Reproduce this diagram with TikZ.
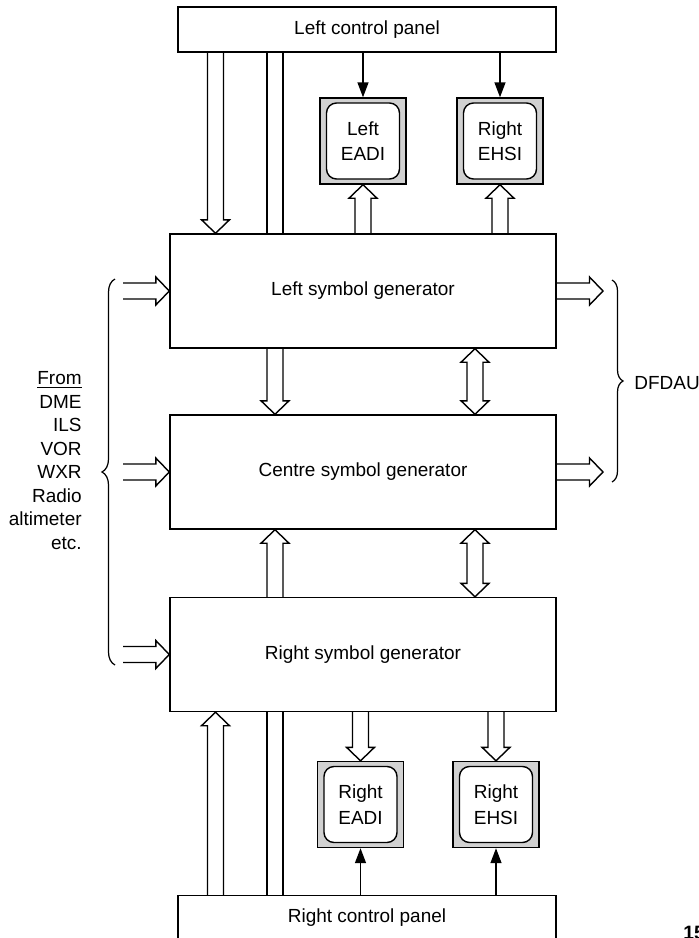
\documentclass[tikz,border=0pt]{standalone}
\usepackage{fontspec}
\setmainfont{Liberation Sans}
\usepackage{tikz}
\usetikzlibrary{arrows.meta, positioning, calc, decorations.pathreplacing}

% hollow bus arrow from #1 to #2 (open at the back)
\newcommand{\busarrow}[2]{%
  \coordinate (ba) at (#1); \coordinate (bb) at (#2);
  \coordinate (bc) at ($(bb)!0.27cm!(ba)$);
  \draw[bus] ($(ba)!0.16cm!90:(bb)$) -- ($(bc)!0.16cm!90:(bb)$) -- ($(bc)!0.28cm!90:(bb)$) -- (bb)
    -- ($(bc)!0.28cm!-90:(bb)$) -- ($(bc)!0.16cm!-90:(bb)$) -- ($(ba)!0.16cm!-90:(bb)$);
}
% hollow bus arrow with heads at both ends
\newcommand{\dbusarrow}[2]{%
  \coordinate (ba) at (#1); \coordinate (bb) at (#2);
  \coordinate (bc) at ($(bb)!0.27cm!(ba)$);
  \coordinate (bd) at ($(ba)!0.27cm!(bb)$);
  \draw[bus] (ba) -- ($(bd)!0.28cm!-90:(ba)$) -- ($(bd)!0.16cm!-90:(ba)$) -- ($(bc)!0.16cm!90:(bb)$)
    -- ($(bc)!0.28cm!90:(bb)$) -- (bb) -- ($(bc)!0.28cm!-90:(bb)$) -- ($(bc)!0.16cm!-90:(bb)$)
    -- ($(bd)!0.16cm!90:(ba)$) -- ($(bd)!0.28cm!90:(ba)$) -- cycle;
}

\begin{document}
\begin{tikzpicture}[
    font=\fontsize{10.8pt}{13.4pt}\selectfont,
    panel/.style={rectangle, draw, line width=0.8pt, fill=white, minimum width=7.56cm, minimum height=0.9cm},
    gen/.style={rectangle, draw, line width=0.8pt, fill=white, minimum width=7.72cm, minimum height=2.28cm},
    screen/.style={rectangle, draw, line width=0.8pt, fill=black!18, minimum size=1.72cm},
    face/.style={rectangle, draw, line width=0.8pt, fill=white, rounded corners=0.2cm, minimum width=1.46cm, minimum height=1.52cm, align=center, font=\fontsize{10.8pt}{14.5pt}\selectfont},
    bus/.style={line width=0.8pt, line join=miter},
    wire/.style={line width=0.8pt},
    ctl/.style={-{Triangle[length=0.3cm, width=0.22cm]}, line width=0.8pt},
    brc/.style={decorate, line width=0.7pt}
]
\useasboundingbox (0,0) rectangle (13.98,-18.76);

% columns
\coordinate (colA)   at (4.31,0);
\coordinate (colB)   at (5.50,0);
\coordinate (colD)   at (9.50,0);
\coordinate (colIn)  at (2.46,0);
\coordinate (colOut) at (12.06,0);

% panels and generators
\node[panel] (lcp) at (7.34,-0.59)  {Left control panel};
\node[gen]   (lsg) at (7.26,-5.82)  {Left symbol generator};
\node[gen]   (csg) at (7.26,-9.44)  {Centre symbol generator};
\node[gen]   (rsg) at (7.26,-13.09) {Right symbol generator};
\node[panel] (rcp) at (7.34,-18.36) {Right control panel};

% displays
\node[screen] (adi1) at (7.26,-2.82) {};
\node[face]   (adi1t) at (adi1) {Left\\EADI};
\node[screen] (hsi1) at (10.0,-2.82) {};
\node[face]   (hsi1t) at (hsi1) {Right\\EHSI};
\node[screen] (adi2) at (7.21,-16.09) {};
\node[face]   (adi2t) at (adi2) {Right\\EADI};
\node[screen] (hsi2) at (9.92,-16.09) {};
\node[face]   (hsi2t) at (hsi2) {Right\\EHSI};

% control lines
\draw[ctl] (adi1 |- lcp.south) -- (adi1.north);
\draw[ctl] (hsi1 |- lcp.south) -- (hsi1.north);
\draw[ctl] (adi2 |- rcp.north) -- (adi2.south);
\draw[ctl] (hsi2 |- rcp.north) -- (hsi2.south);

% panel buses
\busarrow{lcp.south -| colA}{lsg.north -| colA}
\draw[wire] ($(lcp.south -| colB)+(-0.16,0)$) -- ($(lsg.north -| colB)+(-0.16,0)$);
\draw[wire] ($(lcp.south -| colB)+(0.16,0)$) -- ($(lsg.north -| colB)+(0.16,0)$);
\busarrow{rcp.north -| colA}{rsg.south -| colA}
\draw[wire] ($(rcp.north -| colB)+(-0.16,0)$) -- ($(rsg.south -| colB)+(-0.16,0)$);
\draw[wire] ($(rcp.north -| colB)+(0.16,0)$) -- ($(rsg.south -| colB)+(0.16,0)$);

% generator to display buses
\busarrow{lsg.north -| adi1}{adi1.south}
\busarrow{lsg.north -| hsi1}{hsi1.south}
\busarrow{rsg.south -| adi2}{adi2.north}
\busarrow{rsg.south -| hsi2}{hsi2.north}

% between generators
\busarrow{lsg.south -| colB}{csg.north -| colB}
\dbusarrow{lsg.south -| colD}{csg.north -| colD}
\busarrow{rsg.north -| colB}{csg.south -| colB}
\dbusarrow{csg.south -| colD}{rsg.north -| colD}

% inputs and outputs
\busarrow{lsg.west -| colIn}{lsg.west}
\busarrow{csg.west -| colIn}{csg.west}
\busarrow{rsg.west -| colIn}{rsg.west}
\busarrow{lsg.east}{lsg.east -| colOut}
\busarrow{csg.east}{csg.east -| colOut}

% braces and labels
\coordinate (inlo) at (2.30,-13.30);
\coordinate (inhi) at (2.30,-5.58);
\draw[brc, decoration={brace, amplitude=0.26cm}] (inlo) -- (inhi);
\node[anchor=east, align=right, inner sep=0pt] (src) at (1.64,-9.21)
  {\underline{From}\\DME\\ILS\\VOR\\WXR\\Radio\\altimeter\\etc.};

\coordinate (outhi) at (12.24,-5.60);
\coordinate (outlo) at (12.24,-9.64);
\draw[brc, decoration={brace, amplitude=0.22cm}] (outhi) -- (outlo);
\node[anchor=west, inner sep=0pt] (dfdau) at (12.68,-7.66) {DFDAU};

\node[anchor=north west, inner sep=0pt, font=\bfseries\fontsize{11pt}{13pt}\selectfont] (fignum) at (13.66,-18.52) {15};
\end{tikzpicture}
\end{document}
